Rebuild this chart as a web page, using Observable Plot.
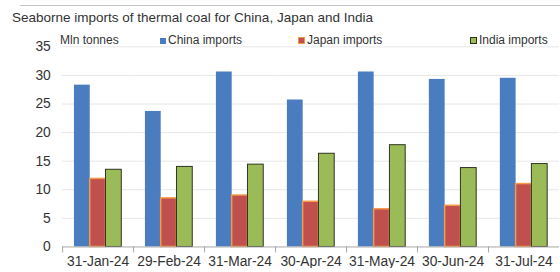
<!DOCTYPE html>
<html>
<head>
<meta charset="utf-8">
<script src="https://cdn.jsdelivr.net/npm/d3@7"></script>
<script src="https://cdn.jsdelivr.net/npm/@observablehq/plot@0.6"></script>
<style>
  html, body { margin: 0; padding: 0; background: #fff; overflow: hidden; }
  #wrap { position: relative; width: 560px; height: 272px; overflow: hidden; font-family: "Liberation Sans", Arial, sans-serif; color: #333; }
  #topline { position: absolute; left: 20px; top: 5px; width: 540px; border-top: 1px solid #c4c4c4; }
  #title { position: absolute; left: 12px; top: 10px; font-size: 13.5px; line-height: 16px; white-space: nowrap; color: #333; }
  #chart { position: absolute; left: 0; top: 0; }
  .leg { position: absolute; top: 33px; font-size: 12px; line-height: 14px; white-space: nowrap; color: #333; }
  .sw { display: inline-block; box-sizing: border-box; vertical-align: 0px; margin-right: 2px; }
</style>
</head>
<body>
<div id="wrap">
  <div id="topline"></div>
  <div id="title"></div>
  <div id="chart"></div>
</div>
<script>
const title = "Seaborne imports of thermal coal for China, Japan and India";
const unitLabel = "Mln tonnes";
const dates = ["31-Jan-24", "29-Feb-24", "31-Mar-24", "30-Apr-24", "31-May-24", "30-Jun-24", "31-Jul-24"];
const series = ["China imports", "Japan imports", "India imports"];
const china = [28.3, 23.7, 30.6, 25.7, 30.6, 29.3, 29.5];
const japan = [11.9, 8.5, 9.0, 7.9, 6.6, 7.2, 11.0];
const india = [13.5, 14.0, 14.4, 16.3, 17.8, 13.8, 14.5];
const yTicks = [0, 5, 10, 15, 20, 25, 30, 35];

const fills = ["#4a7dbf", "#c0504d", "#9bbb59"];
const strokes = ["none", "#f59a4a", "#2e3320"];

const values = [china, japan, india];
const rows = dates.flatMap((d, i) => series.map((s, k) => ({date: d, series: s, value: values[k][i]})));

document.getElementById("title").textContent = title;

const wrap = document.getElementById("wrap");
const legPos = [{x: 60}, {x: 160}, {x: 298}, {x: 470}];
const unit = document.createElement("div");
unit.className = "leg";
unit.style.left = legPos[0].x + "px";
unit.textContent = unitLabel;
wrap.appendChild(unit);
series.forEach((s, k) => {
  const el = document.createElement("div");
  el.className = "leg";
  el.style.left = legPos[k + 1].x + "px";
  const sw = document.createElement("span");
  sw.className = "sw";
  const size = k === 0 ? 6 : 7;
  sw.style.width = size + "px";
  sw.style.height = size + "px";
  sw.style.background = fills[k];
  if (strokes[k] !== "none") sw.style.border = "1px solid " + strokes[k];
  el.appendChild(sw);
  el.appendChild(document.createTextNode(s));
  wrap.appendChild(el);
});

const barMarks = series.map((s, k) => Plot.barY(rows.filter(r => r.series === s), {
  fx: "date", x: "series", y: "value",
  fill: fills[k],
  stroke: strokes[k],
  strokeWidth: k === 1 ? 1.5 : 1,
  inset: 0
}));

const chart = Plot.plot({
  width: 568,
  height: 272,
  marginLeft: 62,
  marginRight: 0,
  marginTop: 47,
  marginBottom: 22,
  style: {fontFamily: "'Liberation Sans', Arial, sans-serif", fontSize: "14px", color: "#333", background: "transparent"},
  fx: {domain: dates, padding: 0, label: null, tickSize: 0, tickPadding: 9},
  x: {domain: series, axis: null, paddingInner: 0, paddingOuter: 0.742},
  y: {domain: [0, 35], ticks: yTicks, tickSize: 0, tickPadding: 12, label: null},
  marks: [
    Plot.ruleY(yTicks.filter(v => v > 0), {stroke: "#e6e6e6", strokeWidth: 1}),
    ...barMarks,
    Plot.ruleY([0], {stroke: "#a6a6a6", strokeWidth: 1}),
    Plot.frame({anchor: "left", stroke: "#a6a6a6", insetTop: 203, insetBottom: -5})
  ]
});
document.getElementById("chart").appendChild(chart);
</script>
</body>
</html>
